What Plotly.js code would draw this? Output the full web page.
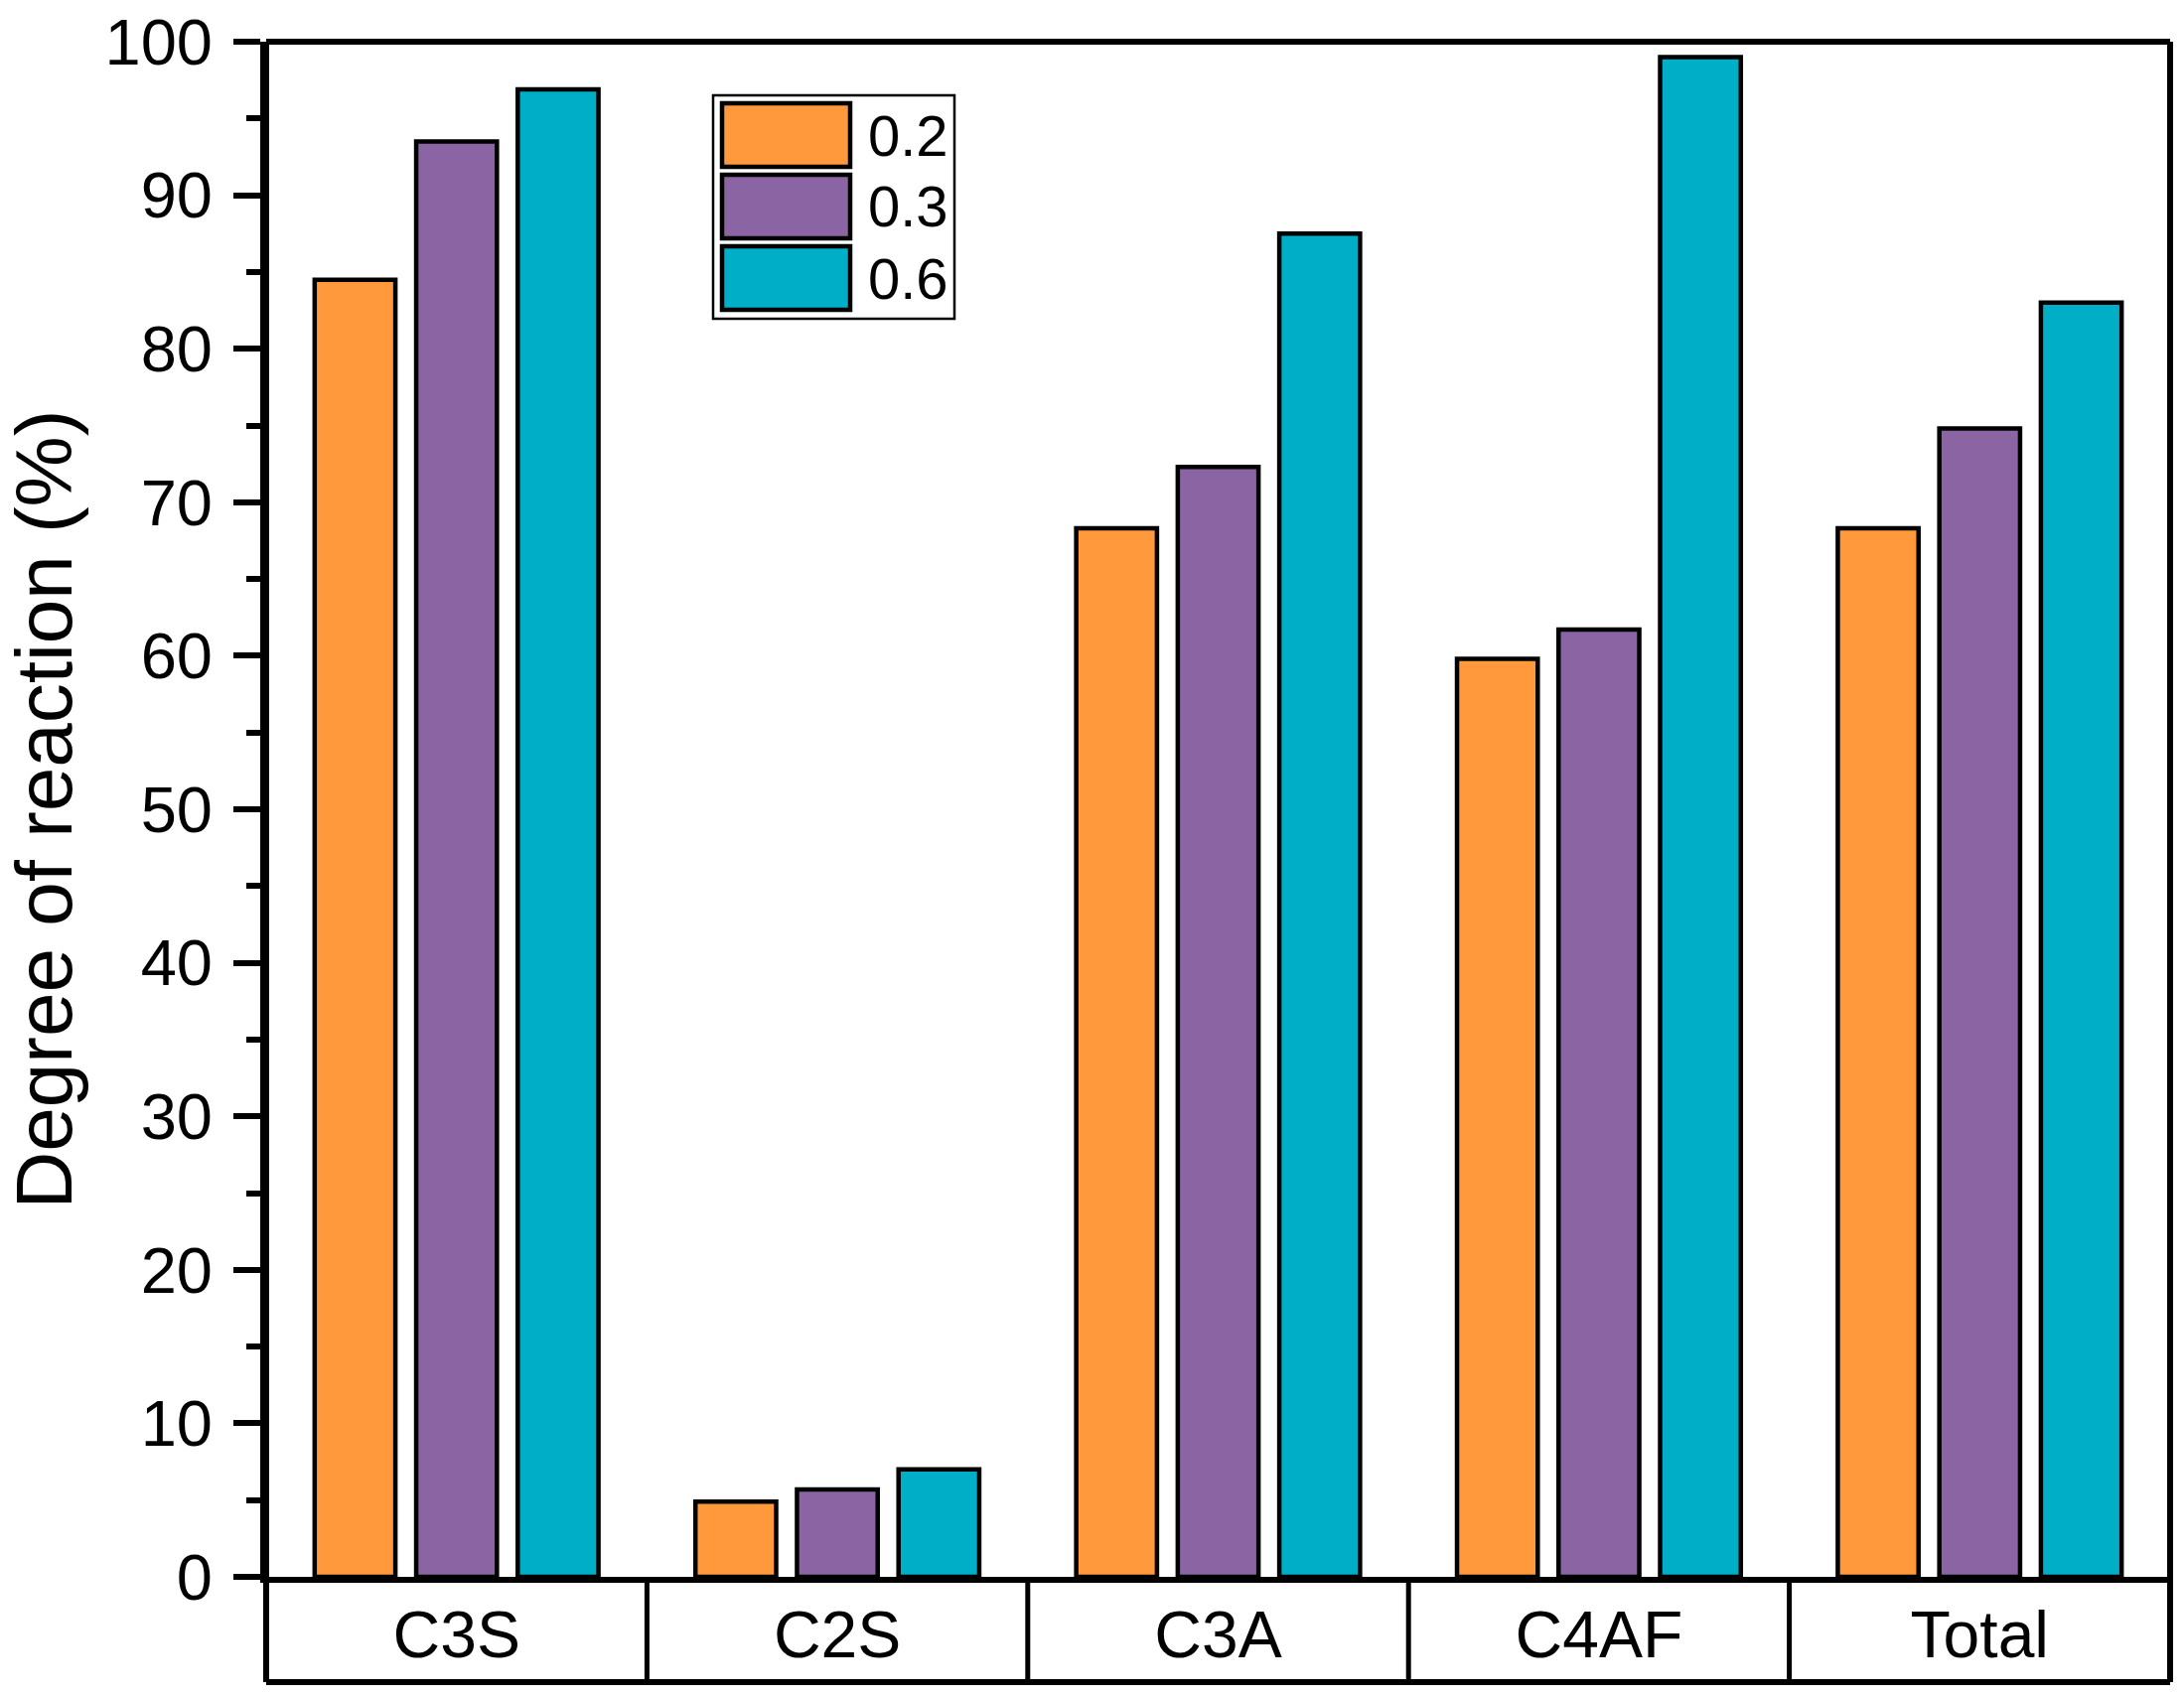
<!DOCTYPE html>
<html>
<head>
<meta charset="utf-8">
<script src="https://cdn.plot.ly/plotly-3.0.1.min.js"></script>
<style>
  html, body { margin: 0; padding: 0; background: #ffffff; }
  #chart { width: 2199px; height: 1709px; }
</style>
</head>
<body>
<div id="chart"></div>
<script>
// ---- data ----
const categories = ["C3S", "C2S", "C3A", "C4AF", "Total"];
const seriesNames = ["0.2", "0.3", "0.6"];
const values02 = [84.5, 4.9, 68.3, 59.8, 68.3];
const values03 = [93.5, 5.7, 72.3, 61.7, 74.8];
const values06 = [96.9, 7.0, 87.5, 99.0, 83.0];
const seriesColors = ["#FF993B", "#8B65A3", "#00AEC7"];
const yTickVals = [0, 10, 20, 30, 40, 50, 60, 70, 80, 90, 100];
const yTitle = "Degree of reaction (%)";

// ---- layout geometry (px) ----
const W = 2199, H = 1709;
const L = 268, R = 2185, T = 42, B = 1588, TABLE_BOTTOM = 1694;
const plotW = R - L, plotH = B - T;
const px2x = p => (p - L) / plotW;
const py2y = p => (B - p) / plotH;
const FONT = "Arial, 'Liberation Sans', Helvetica, sans-serif";
const LW = 6;

const seriesValues = [values02, values03, values06];
const traces = seriesValues.map((vals, i) => ({
  type: "bar",
  name: seriesNames[i],
  x: categories,
  y: vals,
  marker: { color: seriesColors[i], line: { color: "#000000", width: 4.5 } },
  showlegend: false
}));

const shapes = [];
const tableBottomY = py2y(TABLE_BOTTOM);
// frame: left, right full height, top, bottom of table
shapes.push({ type: "line", xref: "paper", yref: "paper", x0: 0, x1: 0, y0: tableBottomY, y1: 1, line: { color: "#000", width: LW } });
shapes.push({ type: "line", xref: "paper", yref: "paper", x0: 1, x1: 1, y0: tableBottomY, y1: 1, line: { color: "#000", width: LW } });
shapes.push({ type: "line", xref: "paper", yref: "paper", x0: 0, x1: 1, y0: 1, y1: 1, line: { color: "#000", width: LW } });
shapes.push({ type: "line", xref: "paper", yref: "paper", x0: 0, x1: 1, y0: tableBottomY, y1: tableBottomY, line: { color: "#000", width: LW } });
// dividers between category cells
for (let i = 0; i < categories.length - 1; i++) {
  shapes.push({ type: "line", xref: "x", yref: "paper", x0: i + 0.5, x1: i + 0.5, y0: tableBottomY, y1: 0, line: { color: "#000", width: 5 } });
}

// custom legend
const annotations = [];
shapes.push({ type: "rect", xref: "paper", yref: "paper",
  x0: px2x(718), x1: px2x(961), y0: py2y(321), y1: py2y(96),
  line: { color: "#000", width: 2.5 }, fillcolor: "#ffffff" });
seriesNames.forEach((nm, i) => {
  const top = 104 + 72 * i, bot = 168 + 72 * i;
  shapes.push({ type: "rect", xref: "paper", yref: "paper",
    x0: px2x(727), x1: px2x(856), y0: py2y(bot), y1: py2y(top),
    line: { color: "#000", width: 4.5 }, fillcolor: seriesColors[i] });
  annotations.push({ xref: "paper", yref: "paper", x: px2x(872), y: py2y((top + bot) / 2),
    xanchor: "left", yanchor: "middle", showarrow: false, text: nm,
    font: { family: FONT, size: 58, color: "#000" } });
});

const layout = {
  width: W, height: H,
  margin: { l: L, r: W - R, t: T, b: H - B, pad: 0 },
  paper_bgcolor: "#ffffff", plot_bgcolor: "#ffffff",
  barmode: "group", bargap: 0.2, bargroupgap: 0.205,
  font: { family: FONT, color: "#000" },
  xaxis: {
    type: "category",
    showline: true, linecolor: "#000", linewidth: LW,
    ticks: "", showgrid: false, zeroline: false,
    tickfont: { family: FONT, size: 66, color: "#000" },
    ticklabelstandoff: -4,
    fixedrange: true
  },
  yaxis: {
    range: [0, 100], showline: true, linecolor: "#000", linewidth: LW,
    tickmode: "array", tickvals: yTickVals, ticktext: yTickVals.map(String),
    ticks: "outside", ticklen: 27, tickwidth: LW, tickcolor: "#000",
    minor: { tickmode: "linear", tick0: 5, dtick: 10, ticks: "outside", ticklen: 14, tickwidth: LW, tickcolor: "#000", showgrid: false },
    showgrid: false, zeroline: false,
    tickfont: { family: FONT, size: 65, color: "#000" },
    ticklabelstandoff: 8,
    title: { text: yTitle, font: { family: FONT, size: 80, color: "#000" }, standoff: 22 },
    fixedrange: true
  },
  shapes: shapes,
  annotations: annotations,
  showlegend: false
};

Plotly.newPlot("chart", traces, layout, { displayModeBar: false, staticPlot: true });
</script>
</body>
</html>
